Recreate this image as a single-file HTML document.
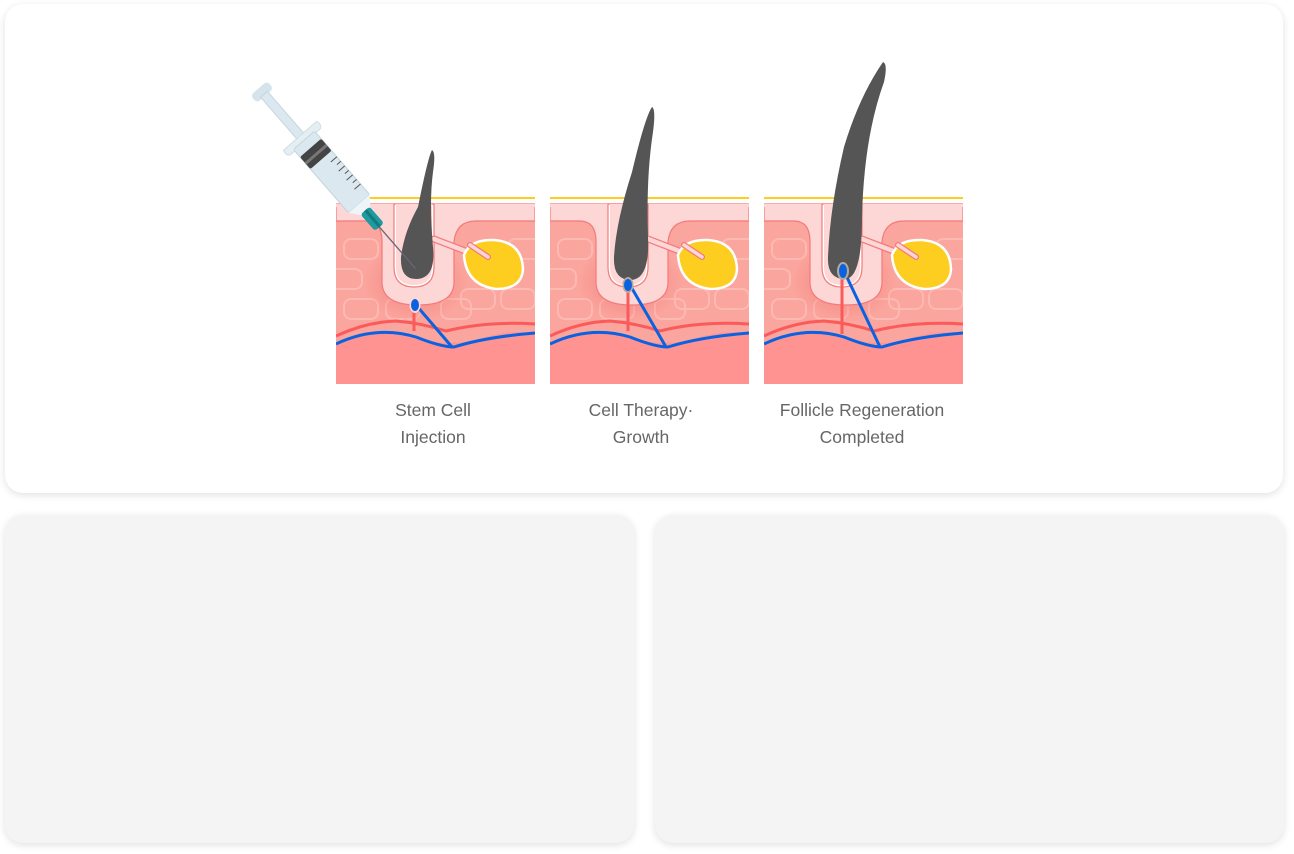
<!DOCTYPE html>
<html><head><meta charset="utf-8"><style>
html,body{margin:0;padding:0;background:#fff;width:1294px;height:854px;overflow:hidden;font-family:"Liberation Sans",sans-serif}
.card{position:absolute;border-radius:18px;box-shadow:0 2px 8px rgba(0,0,0,0.12)}
.lbl{position:absolute;width:200px;text-align:center;font-size:17.5px;line-height:27px;color:#666}
</style></head><body>
<div class="card" style="left:5px;top:4px;width:1278px;height:489px;background:#fff"></div>
<div class="card" style="left:5px;top:515px;width:629px;height:328px;background:#f4f4f4"></div>
<div class="card" style="left:655px;top:515px;width:629px;height:328px;background:#f4f4f4"></div>
<svg width="1294" height="854" style="position:absolute;left:0;top:0">
<defs>
<clipPath id="pc"><rect x="0" y="0" width="199" height="187"/></clipPath>
<radialGradient id="glow" cx="0.5" cy="0.5" r="0.5"><stop offset="0.6" stop-color="#f47a7a" stop-opacity="0.35"/><stop offset="1" stop-color="#f47a7a" stop-opacity="0"/></radialGradient>
<g id="skin">
 <g clip-path="url(#pc)">
 <rect x="0" y="7" width="199" height="180" fill="#faa59d"/>
 <g fill="none" stroke="#fdb9b2" stroke-width="2">
  <rect x="8" y="42" width="34" height="20" rx="7"/><rect x="-10" y="72" width="36" height="20" rx="7"/><rect x="8" y="102" width="34" height="20" rx="7"/>
  <rect x="125" y="92" width="34" height="20" rx="7"/><rect x="165" y="92" width="34" height="20" rx="7"/><rect x="105" y="102" width="30" height="20" rx="7"/>
  <rect x="50" y="102" width="34" height="20" rx="7"/><rect x="172" y="42" width="34" height="20" rx="7"/>
 </g>
 <ellipse cx="80" cy="85" rx="52" ry="40" fill="url(#glow)"/>
 <path d="M0,7 H199 V24 H140 Q120,24 118,45 V85 Q118,108 82,108 Q46,108 46,85 V45 Q46,24 30,24 H0 Z" fill="#fdd6d6" stroke="#f47a7a" stroke-width="1.2"/>
 <rect x="0" y="7" width="199" height="3" fill="#fdd6d6"/>
 <path d="M58,7 V70 Q58,90 78,90 Q98,90 98,70 V7 Z" fill="#fff" stroke="#f47a7a" stroke-width="1.2"/>
 <path d="M60,7 V70 Q60,88 78,88 Q96,88 96,70 V7 Z" fill="#fdd6d6"/>
 <line x1="98" y1="42" x2="150" y2="62" stroke="#f47a7a" stroke-width="7" stroke-linecap="round"/>
 <line x1="98" y1="42" x2="150" y2="62" stroke="#fdd6d6" stroke-width="4.5" stroke-linecap="round"/>
 <path d="M128,58 Q134,42 158,43 Q186,45 187,72 Q186,92 160,92 Q130,88 128,58 Z" fill="#fdcd20" stroke="#fff" stroke-width="2.5"/>
 <line x1="134" y1="48" x2="152" y2="60" stroke="#f47a7a" stroke-width="6" stroke-linecap="round"/>
 <line x1="134" y1="48" x2="152" y2="60" stroke="#fdd6d6" stroke-width="3.5" stroke-linecap="round"/>
 <path d="M0,147 Q40,128 80,140 Q115,152 150,140 Q180,132 199,137 V187 H0 Z" fill="#ff9391"/>
 <path d="M0,139 Q30,125 60,124 Q85,126 110,134 Q150,124 199,127" fill="none" stroke="#fb5a5a" stroke-width="3"/>
 <path d="M0,147 Q40,128 80,140 Q105,150 118,150 Q150,140 199,136" fill="none" stroke="#0b62e0" stroke-width="3"/>
 </g>
 <rect x="0" y="0" width="199" height="2" fill="#fdcd20"/>
</g>
</defs>

<!-- panel 1 -->
<g transform="translate(336,197)">
 <use href="#skin"/>
 <line x1="78" y1="108" x2="78" y2="134" stroke="#fb5a5a" stroke-width="3"/>
 <line x1="80" y1="108" x2="116" y2="150" stroke="#0b62e0" stroke-width="3"/>
 <path d="M96,-47 Q100,-45 97,-25 Q93,5 97,50 Q100,82 80,82 Q64,82 65,60 Q68,35 82,10 Q92,-40 96,-47 Z" fill="#555"/>
 <ellipse cx="79" cy="108" rx="5.5" ry="8" fill="#fdd6d6"/>
 <ellipse cx="79" cy="108" rx="4" ry="6" fill="#0b62e0"/>
</g>
<!-- panel 2 -->
<g transform="translate(550,197)">
 <use href="#skin"/>
 <line x1="78" y1="88" x2="78" y2="134" stroke="#fb5a5a" stroke-width="3"/>
 <line x1="80" y1="88" x2="116" y2="150" stroke="#0b62e0" stroke-width="3"/>
 <path d="M102,-90 Q106,-88 103,-65 Q96,-20 98,40 Q100,82 81,83 Q63,83 64,60 Q66,25 82,-25 Q95,-80 102,-90 Z" fill="#555"/>
 <ellipse cx="78" cy="88" rx="5.5" ry="8" fill="#b8a89a"/>
 <ellipse cx="78" cy="88" rx="4" ry="6" fill="#0b62e0"/>
</g>
<!-- panel 3 -->
<g transform="translate(764,197)">
 <use href="#skin"/>
 <line x1="78" y1="74" x2="78" y2="137" stroke="#fb5a5a" stroke-width="3"/>
 <line x1="80" y1="74" x2="116" y2="150" stroke="#0b62e0" stroke-width="3"/>
 <path d="M119,-135 Q124,-133 120,-115 Q100,-60 98,20 Q98,82 81,82 Q63,82 64,60 Q66,10 80,-50 Q95,-100 119,-135 Z" fill="#555"/>
 <ellipse cx="79" cy="74" rx="6" ry="9" fill="#b8a89a"/>
 <ellipse cx="79" cy="74" rx="4" ry="7" fill="#0b62e0"/>
</g>

<!-- syringe -->
<g transform="translate(262,92) rotate(49)">
 <rect x="-5" y="-11" width="10" height="22" rx="4" fill="#d5e3ea"/>
 <rect x="3" y="-4.5" width="58" height="9" fill="#dbe8ef" stroke="#c4d6df" stroke-width="1"/>
 <path d="M58,-22 Q64,-24 66,-20 V20 Q64,24 58,22 Z" fill="#e4eef3" stroke="#d0dee6" stroke-width="1"/>
 <rect x="64" y="-14" width="84" height="28" rx="2" fill="#dbe8ef" stroke="#c4d6df" stroke-width="1"/>
 <rect x="74" y="-14" width="16" height="28" rx="2" fill="#444"/>
 <rect x="81" y="-14" width="3" height="28" fill="#777"/>
 <g stroke="#555" stroke-width="1">
  <line x1="98" y1="-14" x2="98" y2="-6"/><line x1="104" y1="-14" x2="104" y2="-9"/><line x1="110" y1="-14" x2="110" y2="-6"/><line x1="116" y1="-14" x2="116" y2="-9"/><line x1="122" y1="-14" x2="122" y2="-6"/><line x1="128" y1="-14" x2="128" y2="-9"/><line x1="134" y1="-14" x2="134" y2="-6"/>
 </g>
 <path d="M148,-14 L158,-6 V6 L148,14 Z" fill="#eef4f7"/>
 <rect x="157" y="-6" width="22" height="12" rx="3" fill="#1e9aa0"/>
 <rect x="157" y="-2" width="22" height="3" fill="#157a80"/>
 <line x1="179" y1="0" x2="234" y2="0" stroke="#667" stroke-width="1.3"/>
</g>
</svg>
<div class="lbl" style="left:333px;top:397px">Stem Cell<br>Injection</div>
<div class="lbl" style="left:541px;top:397px">Cell Therapy·<br>Growth</div>
<div class="lbl" style="left:762px;top:397px">Follicle Regeneration<br>Completed</div>
</body></html>
